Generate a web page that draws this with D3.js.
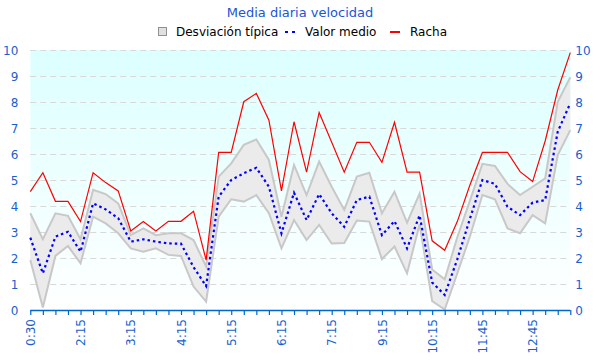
<!DOCTYPE html>
<html><head><meta charset="utf-8">
<script src="https://cdn.jsdelivr.net/npm/d3@7"></script>
<style>body{margin:0;background:#fff}svg{display:block}</style>
</head><body><svg id="c" width="600" height="360"></svg>
<script>
const times = ["0:30","1:00","1:30","2:00","2:15","2:30","2:45","3:00","3:15","3:30","3:45","4:00","4:15","4:30","4:45","5:00","5:15","5:30","5:45","6:00","6:15","6:30","6:45","7:00","7:15","7:45","8:15","8:45","9:15","9:30","9:45","10:00","10:15","10:30","11:00","11:15","11:45","12:00","12:15","12:30","12:45","13:00","13:15","13:30"];
const labelEvery = 4;
const racha = [4.55,5.28,4.18,4.18,3.4,5.28,4.9,4.58,3.04,3.4,3.04,3.41,3.41,3.8,1.92,6.06,6.06,8.01,8.33,7.3,4.58,7.24,5.3,7.6,6.45,5.3,6.45,6.45,5.68,7.22,5.3,5.3,2.66,2.3,3.4,4.8,6.06,6.06,6.06,5.32,4.94,6.5,8.46,9.9];
const media = [2.78,1.41,2.82,3.01,2.24,4.1,3.87,3.53,2.63,2.72,2.63,2.56,2.55,1.65,0.92,4.36,5.0,5.26,5.47,4.74,2.95,4.51,3.46,4.46,3.72,3.2,4.23,4.36,2.88,3.42,2.37,3.64,1.06,0.58,1.95,3.5,5.0,4.85,3.97,3.65,4.13,4.23,6.86,7.95];
const desvSup = [3.72,2.72,3.72,3.62,2.72,4.62,4.46,4.1,2.88,3.14,2.88,2.95,2.95,2.69,1.67,5.13,5.64,6.35,6.56,5.77,3.59,5.58,4.42,5.71,4.74,3.85,5.13,5.28,3.72,4.55,3.36,4.48,1.56,1.18,2.8,4.2,5.62,5.54,4.85,4.42,4.74,5.06,8.01,8.95];
const desvInf = [1.92,0.1,2.08,2.46,1.8,3.59,3.33,2.95,2.37,2.24,2.37,2.12,2.08,0.9,0.32,3.59,4.26,4.17,4.42,3.72,2.37,3.46,2.69,3.27,2.56,2.58,3.44,3.4,1.96,2.44,1.41,3.3,0.34,0.02,1.41,2.82,4.42,4.26,3.14,2.95,3.65,3.33,5.96,6.92];
const yTicks = [0,1,2,3,4,5,6,7,8,9,10];

const svg = d3.select("#c");
const L=30.3, R=570.3, T=50, B=310;
const x = d3.scalePoint().domain(d3.range(times.length)).range([L,R]);
const y = d3.scaleLinear().domain([0,10]).range([B,T]);
const blue = "#1a5fcf";

const defs = svg.append("defs");
const g = defs.append("linearGradient").attr("id","bg").attr("x1",0).attr("y1",0).attr("x2",0).attr("y2",1);
g.append("stop").attr("offset","0%").attr("stop-color","#dcffff");
g.append("stop").attr("offset","100%").attr("stop-color","#ffffff");
svg.append("rect").attr("x",L).attr("y",T).attr("width",R-L).attr("height",B-T).attr("fill","url(#bg)");

// grid
svg.append("g").selectAll("line").data(yTicks.filter(d=>d>0)).join("line")
  .attr("x1",L).attr("x2",R).attr("y1",d=>y(d)+0.5).attr("y2",d=>y(d)+0.5)
  .attr("stroke","#d8d8d8").attr("stroke-dasharray","6,4");

// band
const idx = d3.range(times.length);
svg.append("path").datum(idx)
  .attr("d", d3.area().x(i=>x(i)).y0(i=>y(desvInf[i])).y1(i=>y(desvSup[i])))
  .attr("fill","#ebebeb").attr("stroke","none");
[desvSup,desvInf].forEach(arr=>{
  svg.append("path").datum(idx).attr("d", d3.line().x(i=>x(i)).y(i=>y(arr[i])))
    .attr("fill","none").attr("stroke","#c8c8c8").attr("stroke-width",2);
});
svg.append("path").datum(idx).attr("d", d3.line().x(i=>x(i)).y(i=>y(racha[i])))
  .attr("fill","none").attr("stroke","#ff0000").attr("stroke-width",1.2);
svg.append("path").datum(idx).attr("d", d3.line().x(i=>x(i)).y(i=>y(media[i])))
  .attr("fill","none").attr("stroke","#0000ff").attr("stroke-width",2.2).attr("stroke-dasharray","2.5,3");

// y axes
const yl = svg.append("g").attr("transform",`translate(${L-9},0)`).call(d3.axisLeft(y).tickValues(yTicks).tickSize(0).tickFormat(d3.format("d")));
const yr = svg.append("g").attr("transform",`translate(${R+4},0)`).call(d3.axisRight(y).tickValues(yTicks).tickSize(0).tickFormat(d3.format("d")));
[yl,yr].forEach(a=>{a.select(".domain").remove();a.selectAll("text").attr("fill",blue).attr("font-family","DejaVu Sans").attr("font-size",12).attr("dy","0.35em");});
yr.selectAll("text").attr("x",1);

// x axis
const xa = svg.append("g").attr("transform",`translate(0,${B})`)
  .call(d3.axisBottom(x).tickSize(5).tickSizeOuter(0).tickFormat(i=> i%labelEvery===0 ? times[i] : ""));
xa.select(".domain").attr("stroke","#0066cc").attr("stroke-width",1.5).attr("d",`M${L},0.5H${R}`);
xa.selectAll(".tick line").attr("stroke","#0066cc").attr("stroke-width",1.2);
xa.selectAll("text").attr("fill",blue).attr("font-family","DejaVu Sans").attr("font-size",12)
  .attr("transform","rotate(-90)").attr("text-anchor","end").attr("x",-9).attr("y",0).attr("dy","0.35em");

// title
svg.append("text").attr("x",300).attr("y",17).attr("text-anchor","middle").attr("fill","#1a56d6")
  .attr("font-family","DejaVu Sans").attr("font-size",13).text("Media diaria velocidad");

// legend
const lg = svg.append("g").attr("font-family","DejaVu Sans").attr("font-size",12).attr("fill","#000");
lg.append("rect").attr("x",158.5).attr("y",27.5).attr("width",8).attr("height",8).attr("fill","#e0e0e0").attr("stroke","#909090");
lg.append("text").attr("x",176).attr("y",36).text("Desviación típica");
lg.append("line").attr("x1",285).attr("x2",297).attr("y1",32).attr("y2",32).attr("stroke","#0000ff").attr("stroke-width",2).attr("stroke-dasharray","3,4");
lg.append("text").attr("x",305).attr("y",36).text("Valor medio");
lg.append("line").attr("x1",390).attr("x2",400).attr("y1",32).attr("y2",32).attr("stroke","#ff0000").attr("stroke-width",2);
lg.append("text").attr("x",410).attr("y",36).text("Racha");
</script></body></html>
